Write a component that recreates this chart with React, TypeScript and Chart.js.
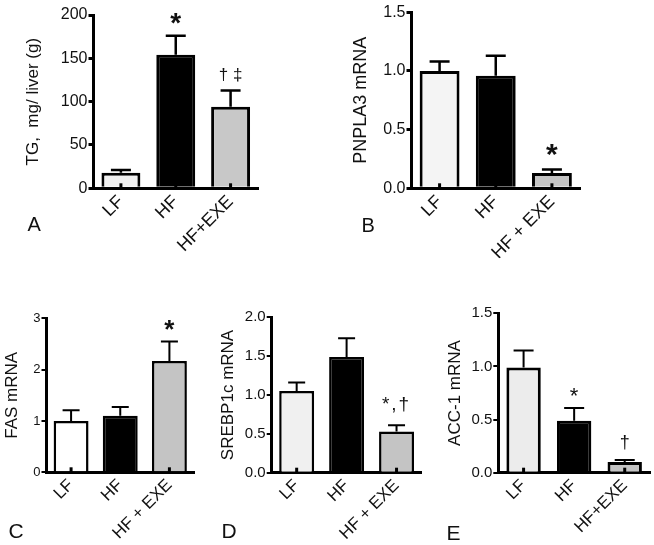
import React, { useEffect, useRef } from 'react';
import { Chart, registerables } from 'chart.js';

Chart.register(...registerables);

const FONT = '"Liberation Sans", Arial, Helvetica, sans-serif';
const INK = '#111111';

// ---- Panel A: liver TG ----
const categoriesA = ['LF', 'HF', 'HF+EXE'];
const tgMeans = [18, 154, 94];
const tgErrTops = [21, 176, 113];
const tgMarks = ['', '*', '† ‡'];

// ---- Panel B: PNPLA3 mRNA ----
const categoriesB = ['LF', 'HF', 'HF + EXE'];
const pnpla3Means = [1.0, 0.96, 0.13];
const pnpla3ErrTops = [1.08, 1.13, 0.16];
const pnpla3Marks = ['', '', '*'];

// ---- Panel C: FAS mRNA ----
const categoriesC = ['LF', 'HF', 'HF + EXE'];
const fasMeans = [1.0, 1.1, 2.17];
const fasErrTops = [1.21, 1.27, 2.55];
const fasMarks = ['', '', '*'];

// ---- Panel D: SREBP1c mRNA ----
const categoriesD = ['LF', 'HF', 'HF + EXE'];
const srebpMeans = [1.05, 1.49, 0.53];
const srebpErrTops = [1.16, 1.73, 0.61];
const srebpMarks = ['', '', '*,†'];

// ---- Panel E: ACC-1 mRNA ----
const categoriesE = ['LF', 'HF', 'HF+EXE'];
const accMeans = [0.99, 0.49, 0.1];
const accErrTops = [1.15, 0.61, 0.12];
const accMarks = ['', '*', '†'];

type Box = { x: number; y: number; w: number; h: number };
type Area = { l: number; t: number; r: number; b: number };
type PanelCfg = {
  letter: string;
  letterX: number;
  letterBase: number;
  letterSize: number;
  canvas: Box;
  area: Area;
  categories: string[];
  means: number[];
  errTops: number[];
  marks: string[];
  markFonts: string[];
  markGaps: number[];
  markSpacing?: string;
  yMax: number;
  yStep: number;
  decimals: number;
  title: string;
  titleX: number;
  titleSize: number;
  tickSize: number;
  xTickSize: number;
  fills: string[];
  borderW: number;
  capW: number;
  errW: number;
  axisW: number;
  tickW: number;
  barPct: number;
};

const panels: PanelCfg[] = [
  {
    letter: 'A', letterX: 27.5, letterBase: 231, letterSize: 20,
    canvas: { x: 0, y: 0, w: 330, h: 270 },
    area: { l: 93.5, t: 15, r: 258, b: 188.3 },
    categories: categoriesA, means: tgMeans, errTops: tgErrTops, marks: tgMarks,
    markFonts: ['', 'bold 28px', '17px'], markGaps: [0, 12, 8.5],
    yMax: 200, yStep: 50, decimals: 0,
    title: 'TG,  mg/ liver (g)', titleX: 33, titleSize: 17, tickSize: 16, xTickSize: 18,
    fills: ['#f0f0f0', '#000000', '#c8c8c8'],
    borderW: 3, capW: 20, errW: 2.5, axisW: 3, tickW: 3, barPct: 0.71,
  },
  {
    letter: 'B', letterX: 361.5, letterBase: 232, letterSize: 20,
    canvas: { x: 330, y: 0, w: 324, h: 270 },
    area: { l: 411.5, t: 12.3, r: 580, b: 188.3 },
    categories: categoriesB, means: pnpla3Means, errTops: pnpla3ErrTops, marks: pnpla3Marks,
    markFonts: ['', '', 'bold 30px'], markGaps: [0, 0, 14],
    yMax: 1.5, yStep: 0.5, decimals: 1,
    title: 'PNPLA3 mRNA', titleX: 361.5, titleSize: 18, tickSize: 16, xTickSize: 18,
    fills: ['#f4f4f4', '#000000', '#c4c4c4'],
    borderW: 3, capW: 20, errW: 2.5, axisW: 3, tickW: 3, barPct: 0.71,
  },
  {
    letter: 'C', letterX: 8.5, letterBase: 538, letterSize: 21,
    canvas: { x: 0, y: 280, w: 215, h: 265 },
    area: { l: 46.5, t: 318.3, r: 194, b: 472.3 },
    categories: categoriesC, means: fasMeans, errTops: fasErrTops, marks: fasMarks,
    markFonts: ['', '', 'bold 26px'], markGaps: [0, 0, 11],
    yMax: 3, yStep: 1, decimals: 0,
    title: 'FAS mRNA', titleX: 12.5, titleSize: 17, tickSize: 13, xTickSize: 17,
    fills: ['#ffffff', '#000000', '#c4c4c4'],
    borderW: 2.5, capW: 17, errW: 2, axisW: 3, tickW: 2, barPct: 0.71,
  },
  {
    letter: 'D', letterX: 221.5, letterBase: 538, letterSize: 21,
    canvas: { x: 215, y: 280, w: 215, h: 265 },
    area: { l: 271.7, t: 317.3, r: 421.5, b: 472.7 },
    categories: categoriesD, means: srebpMeans, errTops: srebpErrTops, marks: srebpMarks,
    markFonts: ['', '', '19px'], markGaps: [0, 0, 12], markSpacing: '2px',
    yMax: 2, yStep: 0.5, decimals: 1,
    title: 'SREBP1c mRNA', titleX: 228, titleSize: 17, tickSize: 15, xTickSize: 17,
    fills: ['#f0f0f0', '#000000', '#c4c4c4'],
    borderW: 2.5, capW: 17, errW: 2, axisW: 3, tickW: 2, barPct: 0.7,
  },
  {
    letter: 'E', letterX: 446.5, letterBase: 539.5, letterSize: 21,
    canvas: { x: 430, y: 280, w: 224, h: 265 },
    area: { l: 498.3, t: 313.3, r: 650, b: 472.7 },
    categories: categoriesE, means: accMeans, errTops: accErrTops, marks: accMarks,
    markFonts: ['', '22px', '18px'], markGaps: [0, 12, 10],
    yMax: 1.5, yStep: 0.5, decimals: 1,
    title: 'ACC-1 mRNA', titleX: 455, titleSize: 17, tickSize: 15, xTickSize: 17,
    fills: ['#ececec', '#000000', '#c4c4c4'],
    borderW: 3, capW: 20, errW: 2, axisW: 3, tickW: 2, barPct: 0.68,
  },
];

function Panel({ cfg }: { cfg: PanelCfg }) {
  const ref = useRef<HTMLCanvasElement>(null);

  useEffect(() => {
    const c = cfg;
    const titleLH = c.titleSize * 1.2;
    const scaleLeft = c.titleX - titleLH / 2;
    const yW = c.area.l - scaleLeft;
    const xH = 70;
    const padding = {
      left: scaleLeft - c.canvas.x,
      top: c.area.t - c.canvas.y,
      right: c.canvas.x + c.canvas.w - c.area.r,
      bottom: c.canvas.y + c.canvas.h - c.area.b - xH,
    };

    const extras = {
      id: 'extras',
      afterDatasetsDraw(chart: any) {
        const ctx: CanvasRenderingContext2D = chart.ctx;
        const meta = chart.getDatasetMeta(0);
        const ys = chart.scales.y;
        ctx.save();
        ctx.strokeStyle = '#000';
        meta.data.forEach((bar: any, i: number) => {
          const x = bar.x;
          const top = ys.getPixelForValue(c.means[i]);
          const errPix = ys.getPixelForValue(c.errTops[i]);
          const zero = ys.getPixelForValue(0);
          // error whisker + cap
          ctx.lineWidth = c.errW;
          ctx.beginPath();
          ctx.moveTo(x, top);
          ctx.lineTo(x, errPix);
          ctx.moveTo(x - c.capW / 2, errPix);
          ctx.lineTo(x + c.capW / 2, errPix);
          ctx.stroke();
          // small base mark
          ctx.lineWidth = 3;
          ctx.beginPath();
          ctx.moveTo(x, zero);
          ctx.lineTo(x, zero - 5);
          ctx.stroke();
          // significance marks
          const mark = c.marks[i];
          if (mark) {
            ctx.font = `${c.markFonts[i]} ${FONT}`;
            (ctx as any).letterSpacing = c.markSpacing || '0px';
            ctx.fillStyle = INK;
            ctx.textAlign = 'center';
            ctx.textBaseline = 'alphabetic';
            const m = ctx.measureText(mark);
            const y = errPix - c.markGaps[i] - m.actualBoundingBoxDescent;
            ctx.fillText(mark, x, y);
            (ctx as any).letterSpacing = '0px';
          }
        });
        ctx.restore();
      },
      afterDraw(chart: any) {
        const ctx: CanvasRenderingContext2D = chart.ctx;
        ctx.save();
        ctx.font = `${c.letterSize}px ${FONT}`;
        ctx.fillStyle = INK;
        ctx.textAlign = 'left';
        ctx.textBaseline = 'alphabetic';
        ctx.fillText(c.letter, c.letterX - c.canvas.x, c.letterBase - c.canvas.y);
        ctx.restore();
      },
    };

    const chart = new Chart(ref.current as HTMLCanvasElement, {
      type: 'bar',
      data: {
        labels: c.categories,
        datasets: [
          {
            data: c.means,
            backgroundColor: c.fills,
            borderColor: '#000000',
            borderWidth: c.borderW,
            borderSkipped: 'start',
            categoryPercentage: 1,
            barPercentage: c.barPct,
          } as any,
        ],
      },
      options: {
        responsive: false,
        animation: false,
        devicePixelRatio: 1,
        layout: { padding },
        plugins: {
          legend: { display: false },
          tooltip: { enabled: false },
          title: { display: false },
        },
        scales: {
          x: {
            type: 'category',
            offset: true,
            z: 1,
            grid: { display: false, drawTicks: false },
            border: { display: true, color: '#000', width: c.axisW },
            ticks: {
              autoSkip: false,
              maxRotation: 45,
              minRotation: 45,
              padding: 3,
              color: INK,
              font: { family: FONT, size: c.xTickSize },
            },
            afterFit: (s: any) => {
              s.height = xH;
            },
          },
          y: {
            type: 'linear',
            min: 0,
            max: c.yMax,
            z: 1,
            grid: {
              display: true,
              drawOnChartArea: false,
              drawTicks: true,
              tickLength: 5,
              lineWidth: c.tickW,
              color: '#000',
            },
            border: { display: true, color: '#000', width: c.axisW },
            ticks: {
              stepSize: c.yStep,
              padding: 1,
              color: INK,
              font: { family: FONT, size: c.tickSize },
              callback: (v: any) => Number(v).toFixed(c.decimals),
            },
            title: {
              display: true,
              text: c.title,
              color: INK,
              font: { family: FONT, size: c.titleSize },
              padding: { top: 0, bottom: 0 },
            },
            afterFit: (s: any) => {
              s.width = yW;
            },
          },
        },
      } as any,
      plugins: [extras as any],
    });
    return () => chart.destroy();
  }, [cfg]);

  return (
    <canvas
      ref={ref}
      width={cfg.canvas.w}
      height={cfg.canvas.h}
      style={{
        position: 'absolute',
        left: cfg.canvas.x,
        top: cfg.canvas.y,
        width: cfg.canvas.w,
        height: cfg.canvas.h,
      }}
    />
  );
}

export default function App() {
  return (
    <div
      style={{
        position: 'absolute',
        left: 0,
        top: 0,
        width: 654,
        height: 545,
        background: '#ffffff',
        overflow: 'hidden',
      }}
    >
      {panels.map((p) => (
        <Panel key={p.letter} cfg={p} />
      ))}
    </div>
  );
}
